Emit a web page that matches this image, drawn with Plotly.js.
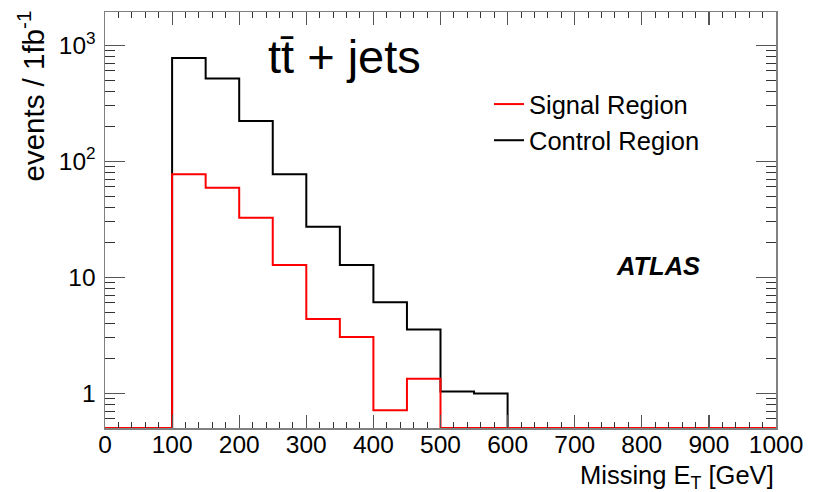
<!DOCTYPE html>
<html>
<head>
<meta charset="utf-8">
<script src="https://cdn.plot.ly/plotly-3.0.1.min.js"></script>
<style>
  html, body { margin: 0; padding: 0; background: #fff; }
  #chart { width: 813px; height: 492px; }
</style>
</head>
<body>
<div id="chart"></div>
<script>
// Bin low edges of the Missing E_T histogram [GeV] (bin width 50)
const binLowEdges = [0, 50, 100, 150, 200, 250, 300, 350, 400, 450, 500, 550, 600, 650, 700, 750, 800, 850, 900, 950];
const binUpperEnd = 1000;

// events / 1fb^-1 per bin
const signalRegion  = [0, 0, 77, 59, 32.5, 12.7, 4.36, 3.05, 0.71, 1.33, 0, 0, 0, 0, 0, 0, 0, 0, 0, 0];
const controlRegion = [0, 0, 778, 517, 222, 77, 27.2, 12.7, 6.07, 3.53, 1.03, 0.99, 0, 0, 0, 0, 0, 0, 0, 0];

const seriesNames = ["Signal Region", "Control Region"];
const yTickVals = [1, 10, 100, 1000];
const yTickText = ["1", "10", "10<sup>2</sup>", "10<sup>3</sup>"];
const xTickVals = [0, 100, 200, 300, 400, 500, 600, 700, 800, 900, 1000];

// axis floor (ROOT draws empty bins at the frame bottom)
const yFloor = 0.5;
const yCeil = 1935;

const minorY = [];
[0.1, 1, 10, 100, 1000].forEach(d => { for (let k = 2; k <= 9; k++) minorY.push(k * d); });

function stepTrace(vals, name, color, rank) {
  const x = binLowEdges.concat([binUpperEnd]);
  const yv = vals.map(v => (v > 0 ? v : yFloor));
  yv.push(yv[yv.length - 1]);
  return {
    type: "scatter", mode: "lines", name: name, x: x, y: yv,
    line: { shape: "hv", color: color, width: 2 },
    legendrank: rank, cliponaxis: false
  };
}

const traces = [
  stepTrace(controlRegion, seriesNames[1], "#000000", 2),
  stepTrace(signalRegion, seriesNames[0], "#ff0000", 1)
];

const FONT = "Liberation Sans, Arial, Helvetica, sans-serif";
const W = 813, H = 492;
const mL = 105, mR = 37, mT = 12, mB = 64;
const pw = W - mL - mR, ph = H - mT - mB;
const px = xp => (xp - mL) / pw;
const py = yp => (H - mB - yp) / ph;

const layout = {
  width: W, height: H,
  margin: { l: mL, r: mR, t: mT, b: mB, pad: 0 },
  paper_bgcolor: "#ffffff", plot_bgcolor: "#ffffff",
  font: { family: FONT, color: "#000", size: 24 },
  showlegend: true,
  legend: {
    x: px(489), y: py(81), xanchor: "left", yanchor: "top",
    bgcolor: "rgba(0,0,0,0)", font: { family: FONT, size: 25.5, color: "#000" },
    itemwidth: 30
  },
  xaxis: {
    range: [0, 1000], showgrid: false, zeroline: false,
    showline: true, linecolor: "#808080", linewidth: 1.5, mirror: "ticks",
    tickmode: "array", tickvals: xTickVals,
    ticks: "inside", ticklen: 13, tickwidth: 1.2, tickcolor: "#555",
    minor: { tickmode: "linear", tick0: 0, dtick: 20, ticks: "inside", ticklen: 6, tickwidth: 1, tickcolor: "#333", showgrid: false },
    tickfont: { family: FONT, size: 24.5, color: "#000" },
    ticklabelstandoff: -6
  },
  yaxis: {
    type: "log", range: [Math.log10(yFloor), Math.log10(yCeil)],
    showgrid: false, zeroline: false,
    showline: true, linecolor: "#808080", linewidth: 1.5, mirror: "ticks",
    tickmode: "array", tickvals: yTickVals, ticktext: yTickText,
    ticks: "inside", ticklen: 20, tickwidth: 1.2, tickcolor: "#555",
    minor: { tickmode: "array", tickvals: minorY, ticks: "inside", ticklen: 10, tickwidth: 1, tickcolor: "#333", showgrid: false },
    tickfont: { family: FONT, size: 24.5, color: "#000" },
    ticklabelstandoff: 3
  },
  annotations: [
    { xref: "paper", yref: "paper", x: px(31), y: py(9), xanchor: "center", yanchor: "top",
      textangle: -90, showarrow: false, text: "events / 1fb<sup>-1</sup>",
      font: { family: FONT, size: 29.5, color: "#000" } },
    { xref: "paper", yref: "paper", x: 1.0, y: py(477), xanchor: "right", yanchor: "middle",
      showarrow: false, text: "Missing E<sub>T</sub> [GeV]",
      font: { family: FONT, size: 25.5, color: "#000" } },
    { xref: "paper", yref: "paper", x: px(266), y: py(57), xanchor: "left", yanchor: "middle",
      showarrow: false, text: "tt\u0304 + jets",
      font: { family: FONT, size: 47, color: "#000" } },
    { xref: "paper", yref: "paper", x: px(614), y: py(266), xanchor: "left", yanchor: "middle",
      showarrow: false, text: "<b><i>ATLAS</i></b>",
      font: { family: FONT, size: 25.5, color: "#000" } }
  ]
};

Plotly.newPlot("chart", traces, layout, { staticPlot: true, displayModeBar: false });
</script>
</body>
</html>
